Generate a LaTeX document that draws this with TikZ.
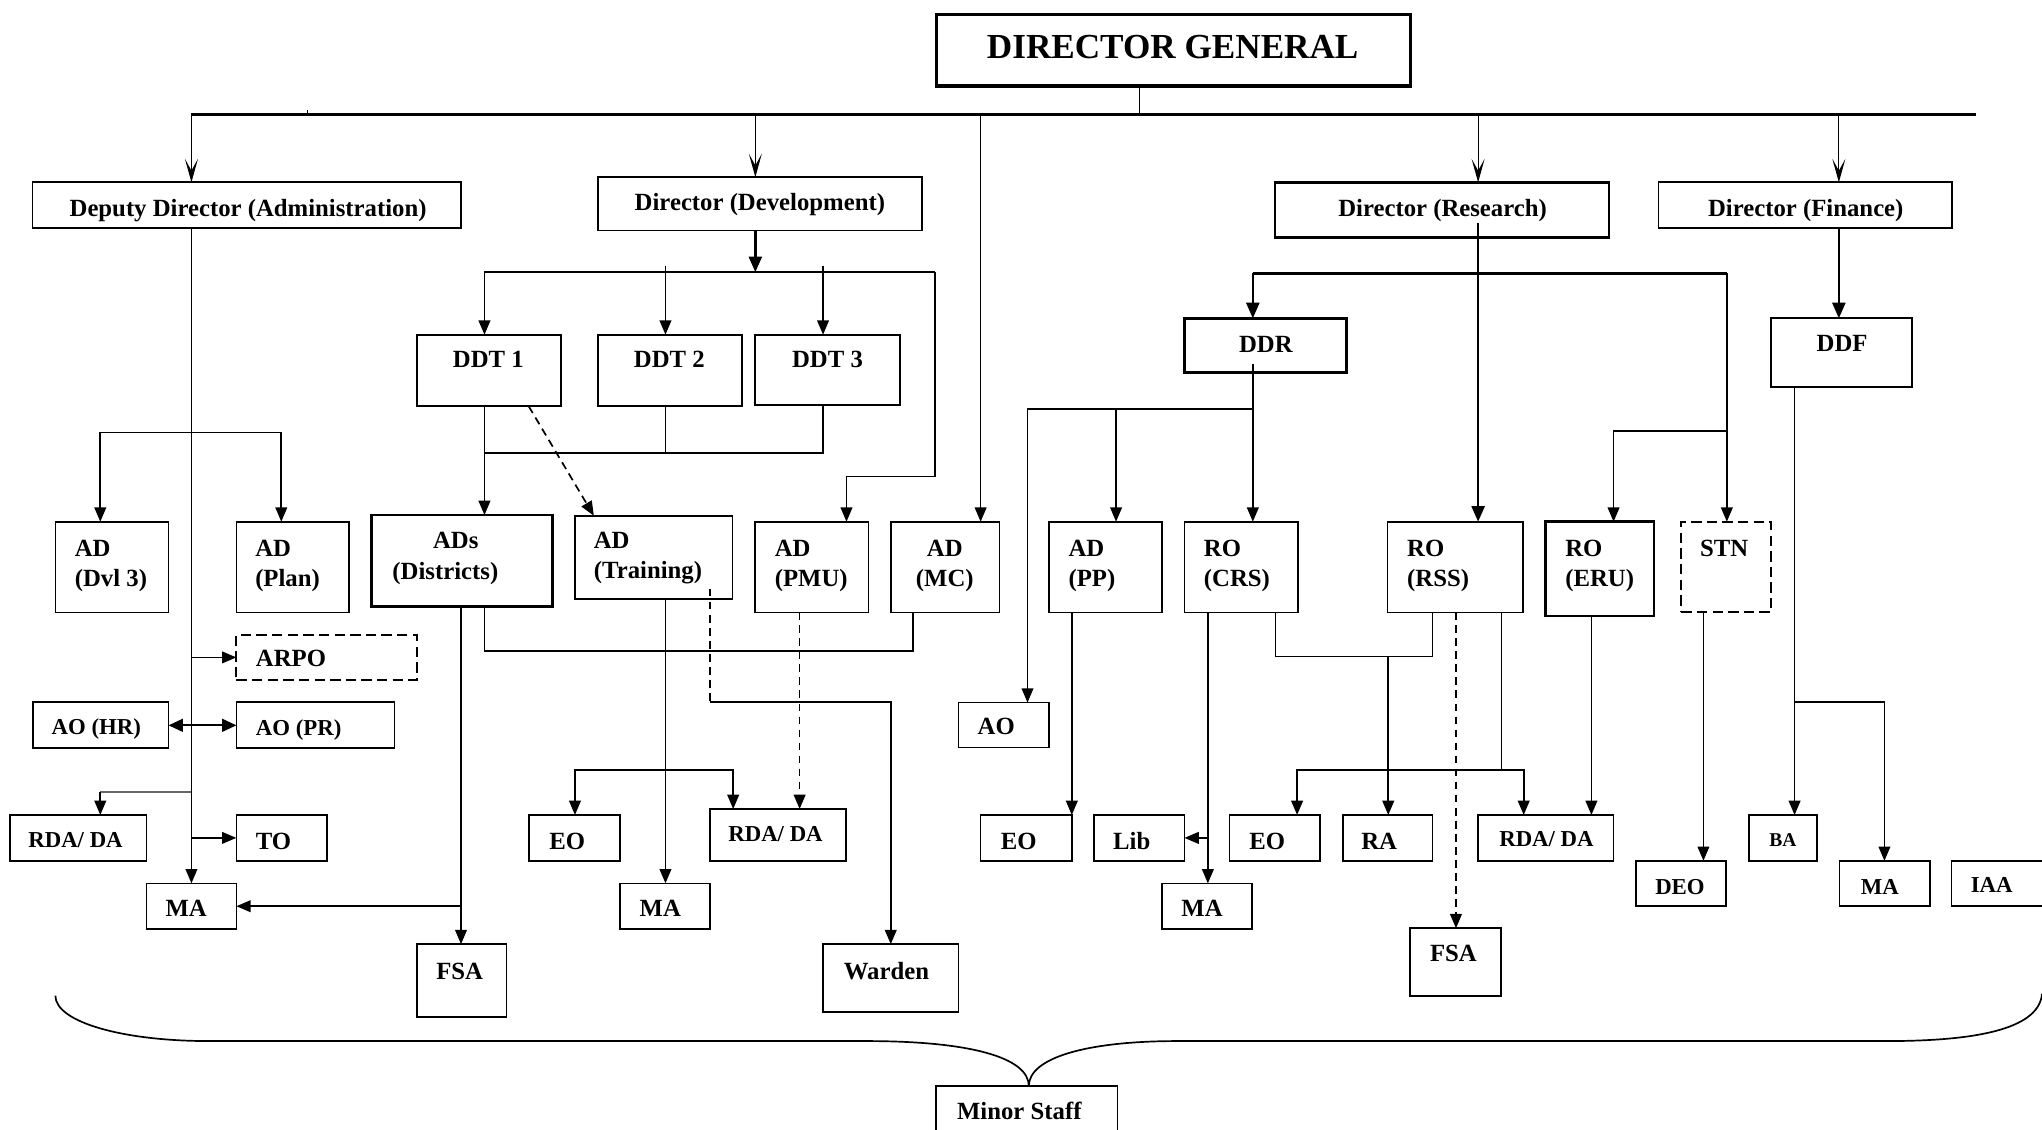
\documentclass[tikz,border=0pt]{standalone}
\usepackage{fontspec}
\setmainfont{Liberation Serif}
\usetikzlibrary{arrows.meta,calc}
\tikzset{
  box/.style={draw, line width=1.3pt, rectangle, inner sep=0pt, outer sep=0pt},
  tbox/.style={box, line width=2.2pt},
  dgbox/.style={box, line width=2.5pt},
  dbox/.style={box, line width=1.4pt, dash pattern=on 8pt off 4pt},
  txt/.style={font=\bfseries\fontsize{19}{23}\selectfont, inner sep=0pt, outer sep=0pt},
  mtxt/.style={font=\bfseries\fontsize{17.5}{21}\selectfont, inner sep=0pt, outer sep=0pt},
  stxt/.style={font=\bfseries\fontsize{15}{18}\selectfont, inner sep=0pt, outer sep=0pt},
  bigtxt/.style={font=\bfseries\fontsize{27}{32}\selectfont, inner sep=0pt, outer sep=0pt},
  ln/.style={line width=1.3pt},
  tk/.style={line width=1.9pt},
  arr/.style={ln, -{Triangle[length=11pt,width=9pt]}},
  tarr/.style={tk, -{Triangle[length=12pt,width=10pt]}},
  varr/.style={line width=0.9pt, -{Stealth[length=18pt,width=10pt,inset=9pt]}},
  darr/.style={arr, dash pattern=on 6pt off 4pt},
  dln/.style={ln, dash pattern=on 6pt off 4pt},
  barr/.style={ln, {Triangle[length=11pt,width=10pt]}-{Triangle[length=11pt,width=10pt]}},
}
% box: [style]{name}{x1}{y1}{x2}{y2}
\newcommand{\bx}[6][]{\node[box,#1,anchor=north west,minimum width={(#5-#3)*1pt},minimum height={(#6-#4)*1pt}] (#2) at (#3,#4) {};}
\begin{document}
\begin{tikzpicture}[x=1pt,y=-1pt]
\useasboundingbox (0,0) rectangle (1568,867);
% ---------------- boxes ----------------
\bx[dgbox]{dg}{719}{11}{1083}{66}
\bx{dda}{25}{140}{354}{175}
\bx{ddev}{459}{136}{708}{177}
\bx[tbox]{dres}{979}{140}{1235.5}{182.5}
\bx{dfin}{1273.5}{140}{1499}{175}
\bx{ddt1}{320}{257}{431}{312}
\bx{ddt2}{459}{257}{570}{312}
\bx{ddt3}{580}{257}{691}{311}
\bx[tbox]{ddr}{909.5}{244.4}{1034}{286.2}
\bx{ddf}{1360}{244.4}{1468}{297}
\bx{addvl}{42.5}{400.6}{129.5}{470.2}
\bx{adplan}{181.5}{400.6}{268}{470.2}
\bx[tbox]{adsd}{285.5}{395.5}{424}{465.8}
\bx{adtr}{441.5}{396}{562.4}{460}
\bx{adpmu}{580}{400.6}{667}{470.2}
\bx{admc}{684}{400.6}{767.4}{470.2}
\bx{adpp}{805.5}{400.6}{892.5}{470.2}
\bx{rocrs}{909.5}{400.6}{996.5}{470.2}
\bx{rorss}{1065.5}{400.6}{1169.5}{470.2}
\bx[tbox]{roeru}{1187}{400.6}{1270}{473}
\bx[dbox]{stn}{1291}{400.6}{1360}{470.2}
\bx[dbox]{arpo}{181.5}{487.6}{320}{522}
\bx{aohr}{25.5}{539.3}{129.5}{574.6}
\bx{aopr}{181.5}{539.3}{303}{574.6}
\bx{aor}{736}{539.5}{805.7}{574}
\bx{rdaL}{7.5}{625.8}{112.5}{661}
\bx{to}{181.5}{625.8}{251}{661}
\bx{eoM}{406.4}{625.8}{476}{661}
\bx{rdaM}{545}{621.2}{649.4}{661}
\bx{eoRa}{753}{625.8}{823}{661}
\bx{lib}{840}{625.8}{909.5}{661}
\bx{eoRb}{944}{625.8}{1013.6}{661}
\bx{ra}{1031.5}{625.8}{1100}{661}
\bx{rdaR}{1135}{625.8}{1239}{661}
\bx{ba}{1343}{625.8}{1395.3}{661}
\bx{maL}{112.5}{678.3}{181.5}{713.4}
\bx{maM}{476}{678.3}{545}{713.4}
\bx{maRM}{892}{678.3}{961.4}{713.4}
\bx{deo}{1256.3}{661}{1325.4}{695.5}
\bx{maR}{1412.4}{661}{1482}{695.5}
\bx{iaa}{1498.6}{661}{1572}{695.5}
\bx{fsaL}{320}{725}{389}{780.7}
\bx{warden}{632}{725}{736}{777.3}
\bx{fsaR}{1082.5}{712.8}{1152.4}{764.8}
\bx{minor}{718.7}{834}{858}{870}
% ---------------- texts ----------------
\node[bigtxt,anchor=base] (t-dg) at (900.5,44.8) {DIRECTOR GENERAL};
\node[txt,anchor=base] (t-dda) at (190.5,166) {Deputy Director (Administration)};
\node[txt,anchor=base] (t-ddev) at (583.5,162) {Director (Development)};
\node[txt,anchor=base] (t-dres) at (1107.7,166) {Director (Research)};
\node[txt,anchor=base] (t-dfin) at (1386.6,166) {Director (Finance)};
\node[txt,anchor=base] (t-ddt1) at (375,282) {DDT 1};
\node[txt,anchor=base] (t-ddt2) at (514,282) {DDT 2};
\node[txt,anchor=base] (t-ddt3) at (635.4,282) {DDT 3};
\node[txt,anchor=base] (t-ddr) at (972,271) {DDR};
\node[txt,anchor=base] (t-ddf) at (1414.5,270) {DDF};
\node[txt,anchor=base west,align=left] (t-addvl) at (57.5,450.5) {AD\\(Dvl 3)};
\node[txt,anchor=base west,align=left] (t-adplan) at (196,450.5) {AD\\(Plan)};
\node[txt,anchor=base,align=center] (t-adsd) at (342,445) {\hspace*{16pt}ADs\\[1pt](Districts)};
\node[txt,anchor=base west,align=left] (t-adtr) at (456,444) {AD\\(Training)};
\node[txt,anchor=base west,align=left] (t-adpmu) at (595,450.5) {AD\\(PMU)};
\node[txt,anchor=base,align=center] (t-admc) at (725.5,450.5) {AD\\(MC)};
\node[txt,anchor=base west,align=left] (t-adpp) at (820.5,450.5) {AD\\(PP)};
\node[txt,anchor=base west,align=left] (t-rocrs) at (924.5,450.5) {RO\\(CRS)};
\node[txt,anchor=base west,align=left] (t-rorss) at (1080.5,450.5) {RO\\(RSS)};
\node[txt,anchor=base west,align=left] (t-roeru) at (1202,450.5) {RO\\(ERU)};
\node[txt,anchor=base] (t-stn) at (1324,427) {STN};
\node[txt,anchor=base west] (t-arpo) at (196.5,512) {ARPO};
\node[mtxt,anchor=base] (t-aohr) at (74,564) {AO (HR)};
\node[mtxt,anchor=base west] (t-aopr) at (196.5,564.5) {AO (PR)};
\node[txt,anchor=base] (t-aor) at (765,564) {AO};
\node[mtxt,anchor=base] (t-rdaL) at (58,650.5) {RDA/ DA};
\node[txt,anchor=base] (t-to) at (210,652) {TO};
\node[txt,anchor=base] (t-eoM) at (435.5,652) {EO};
\node[mtxt,anchor=base] (t-rdaM) at (595.5,646) {RDA/ DA};
\node[txt,anchor=base] (t-eoRa) at (782.3,652) {EO};
\node[txt,anchor=base] (t-lib) at (869,652) {Lib};
\node[txt,anchor=base] (t-eoRb) at (973,652) {EO};
\node[txt,anchor=base] (t-ra) at (1059,652) {RA};
\node[mtxt,anchor=base] (t-rdaR) at (1187.5,650) {RDA/ DA};
\node[stxt,anchor=base] (t-ba) at (1369,650) {BA};
\node[txt,anchor=base] (t-maL) at (143,704) {MA};
\node[txt,anchor=base] (t-maM) at (507,704) {MA};
\node[txt,anchor=base] (t-maRM) at (923,704) {MA};
\node[mtxt,anchor=base] (t-deo) at (1290,686.5) {DEO};
\node[mtxt,anchor=base] (t-maR) at (1443.5,686.5) {MA};
\node[mtxt,anchor=base] (t-iaa) at (1529.4,685) {IAA};
\node[txt,anchor=base] (t-fsaL) at (353,752) {FSA};
\node[txt,anchor=base] (t-warden) at (680.7,752) {Warden};
\node[txt,anchor=base] (t-fsaR) at (1116,738.5) {FSA};
\node[txt,anchor=base] (t-minor) at (782.7,860) {Minor Staff};
% ---------------- top level ----------------
\coordinate (busL) at (147,88);
\coordinate (busR) at (1517,88);
\draw[line width=1.7pt] (busL) -- (busR);
\draw[line width=0.9pt] (875,0 |- dg.south) -- (875,0 |- busL);
\draw[line width=1pt] (236,84.5) -- (236,87);
\draw[varr] (busL) -- (147,0 |- dda.north);
\draw[varr] (580,0 |- busL) -- (580,0 |- ddev.north);
\draw[arr] (753,0 |- busL) -- (753,0 |- admc.north);
\draw[varr] (1135,0 |- busL) -- (1135,0 |- dres.north);
\draw[varr] (1412,0 |- busL) -- (1412,0 |- dfin.north);
% ---------------- development ----------------
\coordinate (devbar) at (580,209);
\draw[tarr] (580,0 |- ddev.south) -- (devbar);
\draw[tk] (372,209) -- (718,209);
\draw[arr] (718,209) -- (718,366) -- (650,366) -- (650,0 |- adpmu.north);
\draw[arr] (372,209) -- (372,0 |- ddt1.north);
\draw[arr] (511,204) -- (511,0 |- ddt2.north);
\draw[arr] (632,204) -- (632,0 |- ddt3.north);
\draw[arr] (372,0 |- ddt1.south) -- (372,0 |- adsd.north);
\draw[ln] (511,0 |- ddt2.south) -- (511,348);
\draw[ln] (632,0 |- ddt3.south) -- (632,348) -- (372,348);
\draw[darr] (406,0 |- ddt1.south) -- (456,0 |- adtr.north);
\draw[ln] (372,0 |- adsd.south) -- (372,500) -- (701,500) -- (701,0 |- admc.south);
% ---------------- administration ----------------
\draw[arr] (147,0 |- dda.south) -- (147,0 |- maL.north);
\draw[arr] (147,332) -- (77,332) -- (77,0 |- addvl.north);
\draw[arr] (147,332) -- (216,332) -- (216,0 |- adplan.north);
\draw[arr] (147,0 |- arpo.west) -- (arpo.west);
\draw[barr] (aohr.east) -- (aopr.west);
\coordinate (rdaLbend) at (77,608);
\draw[ln,draw=black!60] (147,608) -- (rdaLbend);
\draw[arr] (rdaLbend) -- (77,0 |- rdaL.north);
\draw[arr] (147,0 |- to.west) -- (to.west);
\draw[arr] (354,0 |- adsd.south) -- (354,0 |- fsaL.north);
\draw[arr] (354,0 |- maL.east) -- (maL.east);
% ---------------- training / PMU ----------------
\draw[arr] (511,0 |- adtr.south) -- (511,0 |- maM.north);
\draw[arr] (511,591) -- (441.5,591) -- (441.5,0 |- eoM.north);
\draw[arr] (511,591) -- (563,591) -- (563,0 |- rdaM.north);
\draw[dln] ($(545,0 |- adtr.south)+(0,-8)$) -- (545,539);
\draw[arr] (545,539) -- (684,539) -- (684,0 |- warden.north);
\draw[darr] (614,0 |- adpmu.south) -- (614,0 |- rdaM.north);
% ---------------- research ----------------
\draw[tarr] ($(1135,0 |- dres.south)+(0,-11)$) -- (1135,0 |- rorss.north);
\draw[tk] (962,210) -- (1326,210);
\draw[tarr] (962,210) -- (962,0 |- ddr.north);
\draw[arr] (1326,210) -- (1326,0 |- stn.north);
\draw[arr] (1326,331) -- (1239,331) -- (1239,0 |- roeru.north);
\draw[arr] ($(962,0 |- ddr.south)+(0,-7)$) -- (962,0 |- rocrs.north);
\draw[arr] (962,314) -- (789,314) -- (789,0 |- aor.north);
\draw[arr] (857,314) -- (857,0 |- adpp.north);
\draw[arr] (823,0 |- adpp.south) -- (823,0 |- eoRa.north);
\draw[arr] (927.5,0 |- rocrs.south) -- (927.5,0 |- maRM.north);
\draw[arr] (927.5,0 |- lib.east) -- (lib.east);
\draw[ln] (979.5,0 |- rocrs.south) -- (979.5,504) -- (1100,504) -- (1100,0 |- rorss.south);
\draw[arr] (1066,504) -- (1066,0 |- ra.north);
\draw[darr] (1118,0 |- rorss.south) -- (1118,0 |- fsaR.north);
\draw[ln] (1153,0 |- rorss.south) -- (1153,591);
\draw[arr] (1153,591) -- (996,591) -- (996,0 |- eoRb.north);
\draw[arr] (1153,591) -- (1170,591) -- (1170,0 |- rdaR.north);
\draw[arr] (1222,0 |- roeru.south) -- (1222,0 |- rdaR.north);
\draw[arr] (1308,0 |- stn.south) -- (1308,0 |- deo.north);
% ---------------- finance ----------------
\draw[tarr] (1412,0 |- dfin.south) -- (1412,0 |- ddf.north);
\draw[arr] (1378,0 |- ddf.south) -- (1378,0 |- ba.north);
\draw[arr] (1378,539) -- (1447,539) -- (1447,0 |- maR.north);
% ---------------- brace ----------------
\coordinate (braceL) at (42.5,764.5);
\coordinate (braceR) at (1568,763);
\coordinate (braceTip) at (790,0 |- minor.north);
\draw[line width=1.3pt] (braceL) .. controls (42.5,785) and (95,799.4) .. (160,799.4)
  -- (665,799.4) .. controls (745,799.4) and (790,812) .. (braceTip);
\draw[line width=1.3pt] (braceTip) .. controls (790,812) and (835,799.4) .. (904,799.4)
  -- (1449,799.4) .. controls (1525,799.4) and (1566,788) .. (braceR);
\end{tikzpicture}
\end{document}
